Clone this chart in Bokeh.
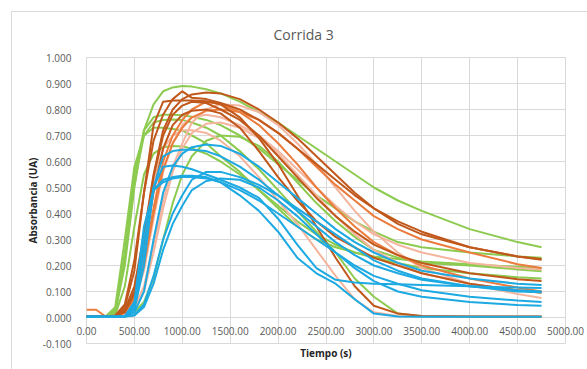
from bokeh.plotting import figure
from bokeh.models import Range1d, FixedTicker, NumeralTickFormatter
from bokeh.embed import file_html
from bokeh.resources import INLINE

# ---------------- data ----------------
TIME = [0, 100, 200, 300, 400, 500, 600, 700, 800, 900, 1000, 1100, 1250, 1400, 1600, 1800,
        2000, 2200, 2400, 2600, 2800, 3000, 3250, 3500, 4000, 4500, 4750]

G1 = [0.005, 0.005, 0.005, 0.02, 0.20, 0.50, 0.72, 0.82, 0.87, 0.885, 0.89, 0.888, 0.878, 0.862, 0.83, 0.79, 0.75, 0.70, 0.65, 0.60, 0.55, 0.50, 0.45, 0.41, 0.34, 0.29, 0.27]
G2 = [0.004, 0.004, 0.004, 0.03, 0.25, 0.55, 0.72, 0.77, 0.78, 0.78, 0.778, 0.772, 0.76, 0.74, 0.70, 0.65, 0.59, 0.53, 0.47, 0.42, 0.37, 0.33, 0.29, 0.27, 0.25, 0.235, 0.23]
G3 = [0.003, 0.003, 0.003, 0.004, 0.008, 0.02, 0.06, 0.15, 0.30, 0.44, 0.55, 0.62, 0.68, 0.70, 0.695, 0.66, 0.60, 0.52, 0.44, 0.37, 0.31, 0.26, 0.23, 0.21, 0.20, 0.185, 0.178]
G4 = [0.004, 0.004, 0.004, 0.01, 0.12, 0.35, 0.55, 0.63, 0.655, 0.66, 0.658, 0.65, 0.63, 0.60, 0.55, 0.49, 0.42, 0.35, 0.30, 0.27, 0.25, 0.235, 0.225, 0.215, 0.205, 0.195, 0.19]
G5 = [0.004, 0.004, 0.004, 0.02, 0.22, 0.52, 0.70, 0.75, 0.76, 0.762, 0.76, 0.75, 0.73, 0.70, 0.64, 0.57, 0.49, 0.41, 0.33, 0.25, 0.15, 0.08, 0.015, 0.005, 0.004, 0.003, 0.003]
G6 = [0.004, 0.004, 0.004, 0.04, 0.30, 0.58, 0.70, 0.73, 0.73, 0.725, 0.72, 0.70, 0.67, 0.62, 0.56, 0.49, 0.43, 0.37, 0.32, 0.28, 0.25, 0.23, 0.21, 0.19, 0.17, 0.155, 0.15]

S1 = [0.004, 0.004, 0.004, 0.005, 0.01, 0.04, 0.12, 0.28, 0.45, 0.58, 0.67, 0.75, 0.80, 0.82, 0.815, 0.79, 0.74, 0.67, 0.59, 0.50, 0.41, 0.33, 0.25, 0.19, 0.13, 0.09, 0.075]
S2 = [0.004, 0.004, 0.004, 0.006, 0.02, 0.10, 0.30, 0.52, 0.65, 0.70, 0.72, 0.72, 0.71, 0.68, 0.62, 0.54, 0.45, 0.36, 0.26, 0.16, 0.07, 0.02, 0.006, 0.004, 0.004, 0.004, 0.004]
S3 = [0.004, 0.004, 0.004, 0.005, 0.015, 0.06, 0.18, 0.38, 0.56, 0.67, 0.74, 0.77, 0.78, 0.77, 0.74, 0.70, 0.64, 0.57, 0.50, 0.43, 0.37, 0.32, 0.28, 0.25, 0.21, 0.19, 0.185]
S4 = [0.004, 0.004, 0.004, 0.005, 0.01, 0.03, 0.10, 0.25, 0.42, 0.56, 0.65, 0.71, 0.745, 0.75, 0.73, 0.69, 0.63, 0.55, 0.47, 0.39, 0.32, 0.26, 0.21, 0.17, 0.13, 0.105, 0.10]

O1 = [0.03, 0.03, 0.004, 0.005, 0.02, 0.08, 0.22, 0.42, 0.60, 0.70, 0.76, 0.80, 0.83, 0.82, 0.79, 0.74, 0.67, 0.59, 0.50, 0.42, 0.35, 0.29, 0.24, 0.20, 0.15, 0.115, 0.10]
O2 = [0.004, 0.004, 0.004, 0.006, 0.02, 0.07, 0.20, 0.40, 0.57, 0.67, 0.73, 0.77, 0.795, 0.80, 0.79, 0.76, 0.71, 0.65, 0.58, 0.51, 0.45, 0.39, 0.34, 0.30, 0.25, 0.205, 0.19]

B1 = [0.004, 0.004, 0.004, 0.008, 0.05, 0.22, 0.48, 0.68, 0.78, 0.84, 0.87, 0.845, 0.84, 0.825, 0.80, 0.76, 0.71, 0.65, 0.59, 0.53, 0.47, 0.42, 0.37, 0.33, 0.27, 0.235, 0.222]
B2 = [0.004, 0.004, 0.004, 0.006, 0.04, 0.18, 0.48, 0.74, 0.83, 0.835, 0.835, 0.835, 0.832, 0.82, 0.77, 0.69, 0.59, 0.47, 0.35, 0.23, 0.12, 0.045, 0.015, 0.006, 0.004, 0.004, 0.004]
B3 = [0.004, 0.004, 0.004, 0.006, 0.03, 0.12, 0.32, 0.55, 0.72, 0.80, 0.84, 0.858, 0.865, 0.862, 0.84, 0.80, 0.75, 0.69, 0.62, 0.55, 0.48, 0.42, 0.36, 0.32, 0.27, 0.235, 0.225]
B4 = [0.004, 0.004, 0.004, 0.006, 0.025, 0.10, 0.30, 0.54, 0.70, 0.78, 0.815, 0.83, 0.825, 0.80, 0.76, 0.70, 0.62, 0.54, 0.46, 0.39, 0.33, 0.28, 0.24, 0.21, 0.17, 0.147, 0.14]
B5 = [0.004, 0.004, 0.004, 0.006, 0.02, 0.09, 0.26, 0.48, 0.65, 0.74, 0.78, 0.795, 0.80, 0.785, 0.73, 0.64, 0.54, 0.45, 0.37, 0.31, 0.27, 0.23, 0.20, 0.17, 0.13, 0.105, 0.095]

BL1 = [0.003, 0.003, 0.003, 0.003, 0.005, 0.02, 0.10, 0.30, 0.48, 0.58, 0.63, 0.655, 0.665, 0.66, 0.63, 0.58, 0.52, 0.46, 0.40, 0.34, 0.29, 0.25, 0.21, 0.18, 0.15, 0.13, 0.125]
BL2 = [0.003, 0.003, 0.003, 0.003, 0.005, 0.03, 0.20, 0.50, 0.62, 0.64, 0.645, 0.645, 0.64, 0.62, 0.58, 0.53, 0.47, 0.41, 0.35, 0.29, 0.24, 0.20, 0.17, 0.145, 0.12, 0.105, 0.10]
BL3 = [0.003, 0.003, 0.003, 0.003, 0.005, 0.05, 0.30, 0.50, 0.58, 0.585, 0.58, 0.57, 0.55, 0.53, 0.50, 0.46, 0.38, 0.28, 0.19, 0.145, 0.135, 0.13, 0.128, 0.125, 0.12, 0.115, 0.113]
BL4 = [0.003, 0.003, 0.003, 0.003, 0.005, 0.04, 0.25, 0.49, 0.53, 0.54, 0.545, 0.545, 0.54, 0.52, 0.47, 0.41, 0.33, 0.23, 0.17, 0.13, 0.07, 0.015, 0.004, 0.003, 0.003, 0.003, 0.003]
BL5 = [0.003, 0.003, 0.003, 0.003, 0.005, 0.06, 0.35, 0.49, 0.52, 0.535, 0.54, 0.54, 0.535, 0.52, 0.49, 0.45, 0.40, 0.35, 0.30, 0.25, 0.20, 0.16, 0.13, 0.105, 0.08, 0.065, 0.06]
BL6 = [0.003, 0.003, 0.003, 0.003, 0.004, 0.01, 0.05, 0.16, 0.30, 0.40, 0.47, 0.53, 0.56, 0.56, 0.54, 0.51, 0.47, 0.42, 0.37, 0.32, 0.27, 0.22, 0.18, 0.15, 0.12, 0.10, 0.097]
BL7 = [0.003, 0.003, 0.003, 0.003, 0.004, 0.008, 0.04, 0.13, 0.26, 0.36, 0.43, 0.49, 0.525, 0.535, 0.53, 0.50, 0.45, 0.39, 0.32, 0.25, 0.19, 0.14, 0.10, 0.08, 0.06, 0.048, 0.045]

X_TICKS = [0, 500, 1000, 1500, 2000, 2500, 3000, 3500, 4000, 4500, 5000]
Y_TICKS = [-0.1, 0.0, 0.1, 0.2, 0.3, 0.4, 0.5, 0.6, 0.7, 0.8, 0.9, 1.0]

GROUPS = [
    ([G1, G2, G3, G4, G5, G6], "#8DCB50"),
    ([S1, S2, S3, S4], "#F4B59E"),
    ([O1, O2], "#EB7C3E"),
    ([B1, B2, B3, B4, B5], "#C0581C"),
    ([BL1, BL2, BL3, BL4, BL5, BL6, BL7], "#1DA9E2"),
]

# ---------------- figure ----------------
FONT = "Open Sans"
GREY_TXT = "#595959"
BORDER = "#D9D9D9"

p = figure(width=587, height=369, output_backend="svg", toolbar_location=None,
           x_range=Range1d(0, 5000), y_range=Range1d(-0.1, 1.0),
           min_border_left=86, min_border_right=22, min_border_top=57, min_border_bottom=26)

# light chart-area border (left and top edges visible, as in the reference)
p.border_fill_color = None
p.styles = {
    "background-color": "white",
    "background-image": f"linear-gradient({BORDER}, {BORDER}), linear-gradient({BORDER}, {BORDER})",
    "background-position": "11px 11px, 11px 11px",
    "background-size": "1px 100%, 100% 1px",
    "background-repeat": "no-repeat",
}

p.title.text = "Corrida 3"
p.title.text_font = FONT
p.title.text_font_size = "14px"
p.title.text_font_style = "normal"
p.title.text_color = GREY_TXT
p.title.align = "left"
p.title.offset = 187
p.title.standoff = 28

p.outline_line_color = BORDER
p.background_fill_color = "white"

p.xgrid.grid_line_color = BORDER
p.ygrid.grid_line_color = BORDER

p.yaxis.ticker = FixedTicker(ticks=Y_TICKS)
p.yaxis.formatter = NumeralTickFormatter(format="0.000")
p.yaxis.axis_line_color = None
p.yaxis.major_tick_line_color = None
p.yaxis.minor_tick_line_color = None
p.yaxis.major_label_text_font = FONT
p.yaxis.major_label_text_font_size = "10px"
p.yaxis.major_label_text_color = GREY_TXT
p.yaxis.major_label_standoff = 9
p.yaxis.axis_label = "Absorbancia (UA)"
p.yaxis.axis_label_text_font = FONT
p.yaxis.axis_label_text_font_size = "10px"
p.yaxis.axis_label_text_font_style = "bold"
p.yaxis.axis_label_text_color = "#262626"
p.yaxis.axis_label_standoff = 0

# x-axis labels sit just under the y = 0 line (axis crosses at zero)
p.xaxis.ticker = FixedTicker(ticks=X_TICKS)
p.xaxis.formatter = NumeralTickFormatter(format="0.00")
p.xaxis.axis_line_color = None
p.xaxis.major_tick_line_color = None
p.xaxis.minor_tick_line_color = None
p.xaxis.major_tick_out = 0
p.xaxis.major_tick_in = 0
p.xaxis.major_label_standoff = -17
p.xaxis.major_label_text_font = FONT
p.xaxis.major_label_text_font_size = "10px"
p.xaxis.major_label_text_color = GREY_TXT
p.xaxis.axis_label = "Tiempo (s)"
p.xaxis.axis_label_text_font = FONT
p.xaxis.axis_label_text_font_size = "10px"
p.xaxis.axis_label_text_font_style = "bold"
p.xaxis.axis_label_text_color = "#262626"
p.xaxis.axis_label_standoff = 8

for series_list, color in GROUPS:
    for ys in series_list:
        p.line(TIME, ys, line_color=color, line_width=2, line_join="round")

open("out.html", "w").write(file_html(p, INLINE))
